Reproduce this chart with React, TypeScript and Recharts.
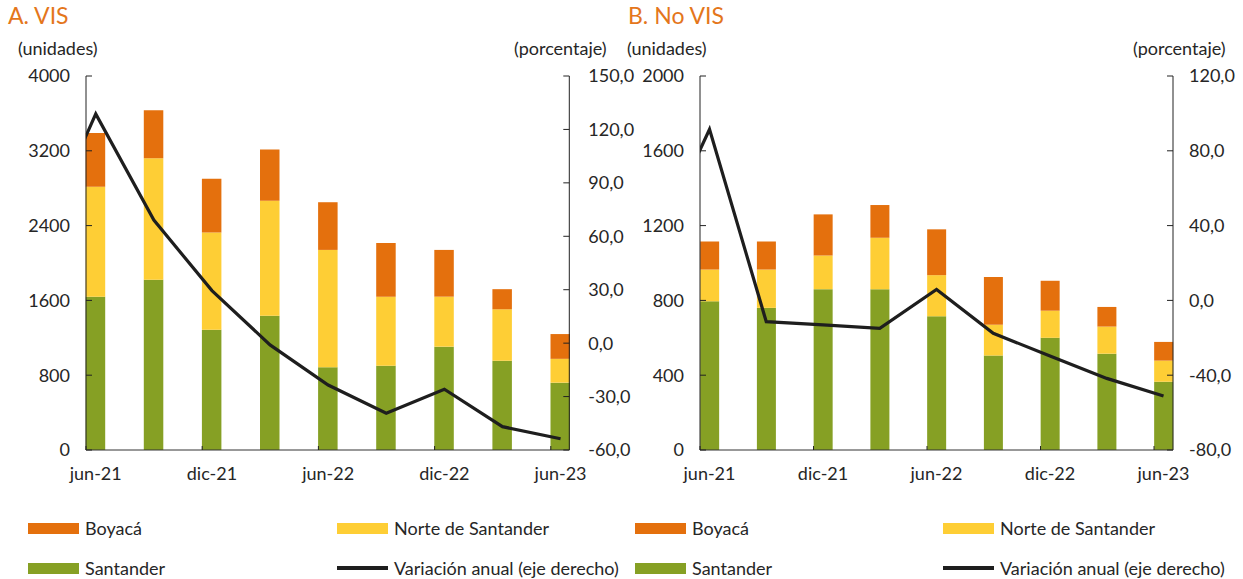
import React from 'react';
import { ComposedChart, Bar, Line, XAxis, YAxis } from 'recharts';

// ---- data ----
const categories = ['mar-21', 'jun-21', 'sep-21', 'dic-21', 'mar-22', 'jun-22', 'sep-22', 'dic-22', 'mar-23', 'jun-23'];
const labeledTicks = ['jun-21', 'dic-21', 'jun-22', 'dic-22', 'jun-23'];

const visSantander = [null, 1640, 1820, 1285, 1435, 885, 900, 1105, 955, 720];
const visNorte = [null, 1175, 1300, 1040, 1230, 1255, 740, 535, 550, 255];
const visBoyaca = [null, 575, 515, 575, 550, 510, 575, 500, 215, 265];
const visVariacion = [55.5, 128.7, 69.1, 29.5, -1.0, -23.5, -39.4, -25.9, -46.9, -53.7];

const noVisSantander = [null, 795, 760, 860, 860, 715, 505, 600, 515, 365];
const noVisNorte = [null, 170, 205, 180, 275, 220, 165, 145, 145, 113];
const noVisBoyaca = [null, 150, 150, 220, 175, 245, 255, 160, 105, 100];
const noVisVariacion = [26, 91.5, -11.4, -13.1, -14.9, 5.9, -17.6, -29.7, -41.7, -51.1];

const visLeftTicks = [0, 800, 1600, 2400, 3200, 4000];
const visRightTicks = [-60, -30, 0, 30, 60, 90, 120, 150];
const noVisLeftTicks = [0, 400, 800, 1200, 1600, 2000];
const noVisRightTicks = [-80, -40, 0, 40, 80, 120];

const series = [
  { key: 'boyaca', name: 'Boyacá', color: '#E4700D' },
  { key: 'norte', name: 'Norte de Santander', color: '#FECE35' },
  { key: 'santander', name: 'Santander', color: '#86A024' },
  { key: 'variacion', name: 'Variación anual (eje derecho)', color: '#1E1E1E' },
];

const buildData = (s: any[], n: any[], b: any[], v: number[]) =>
  categories.map((c, i) => ({ cat: c, santander: s[i], norte: n[i], boyaca: b[i], variacion: v[i] }));

const visData = buildData(visSantander, visNorte, visBoyaca, visVariacion);
const noVisData = buildData(noVisSantander, noVisNorte, noVisBoyaca, noVisVariacion);

// ---- styles ----
const FONT = 'Lato, "Open Sans", sans-serif';
const TXT = '#262626';
const AXIS = '#222222';
const ORANGE_TITLE = '#E4761B';

const fmtPct = (v: number) => v.toFixed(1).replace('.', ',');

const LeftTick = (props: any) => {
  const { x, y, payload } = props;
  return (
    <g>
      <line x1={x} x2={x + 6} y1={y} y2={y} stroke={AXIS} strokeWidth={1} />
      <text x={x - 16} y={y} dy="0.36em" textAnchor="end" fontSize={18} fill={TXT} fontFamily={FONT}>
        {payload.value}
      </text>
    </g>
  );
};

const makeRightTick = (gap: number) => (props: any) => {
  const { x, y, payload } = props;
  return (
    <g>
      <line x1={x} x2={x - 6} y1={y} y2={y} stroke={AXIS} strokeWidth={1} />
      <text x={x + gap} y={y} dy="0.36em" textAnchor="start" fontSize={18} fill={TXT} fontFamily={FONT}>
        {fmtPct(payload.value)}
      </text>
    </g>
  );
};

const makeXTick = (half: number) => (props: any) => {
  const { x, y, payload } = props;
  if (!labeledTicks.includes(payload.value)) return <g />;
  return (
    <g>
      <line x1={x - half} x2={x - half} y1={y} y2={y - 4} stroke={AXIS} strokeWidth={1} />
      <text x={x} y={y + 30} textAnchor="middle" fontSize={18} fill={TXT} fontFamily={FONT}>
        {payload.value}
      </text>
    </g>
  );
};

type PanelProps = {
  data: any[];
  width: number;
  leftW: number;
  rightW: number;
  padL: number;
  padR: number;
  barSize: number;
  leftDomain: [number, number];
  leftTicks: number[];
  rightDomain: [number, number];
  rightTicks: number[];
  rightGap: number;
  clipClass: string;
};

const Panel = (p: PanelProps) => (
  <ComposedChart width={p.width} height={490} data={p.data} margin={{ top: 76, right: 0, bottom: 0, left: 0 }}>
    <XAxis
      dataKey="cat"
      interval={0}
      height={40}
      padding={{ left: p.padL, right: p.padR }}
      tickLine={false}
      tickSize={0}
      tickMargin={0}
      axisLine={{ stroke: '#333', strokeWidth: 1 }}
      tick={makeXTick(p.barSize / 2)}
    />
    <YAxis
      yAxisId="left"
      orientation="left"
      width={p.leftW}
      domain={p.leftDomain}
      ticks={p.leftTicks}
      interval={0}
      tickLine={false}
      tickSize={0}
      tickMargin={0}
      axisLine={{ stroke: AXIS, strokeWidth: 1 }}
      tick={LeftTick}
    />
    <YAxis
      yAxisId="right"
      orientation="right"
      width={p.rightW}
      domain={p.rightDomain}
      ticks={p.rightTicks}
      interval={0}
      tickLine={false}
      tickSize={0}
      tickMargin={0}
      axisLine={{ stroke: AXIS, strokeWidth: 1 }}
      tick={makeRightTick(p.rightGap)}
    />
    <Bar yAxisId="left" dataKey="santander" stackId="a" fill={series[2].color} barSize={p.barSize} isAnimationActive={false} />
    <Bar yAxisId="left" dataKey="norte" stackId="a" fill={series[1].color} barSize={p.barSize} isAnimationActive={false} />
    <Bar yAxisId="left" dataKey="boyaca" stackId="a" fill={series[0].color} barSize={p.barSize} isAnimationActive={false} />
    <Line
      yAxisId="right"
      dataKey="variacion"
      className={p.clipClass}
      stroke={series[3].color}
      strokeWidth={3.2}
      dot={false}
      activeDot={false}
      isAnimationActive={false}
    />
  </ComposedChart>
);

const abs = (left: number, top: number, extra: React.CSSProperties = {}): React.CSSProperties => ({
  position: 'absolute',
  left,
  top,
  whiteSpace: 'nowrap',
  ...extra,
});

const LegendItem = ({ left, top, s }: { left: number; top: number; s: typeof series[number] }) => (
  <div style={abs(left, top, { height: 22, display: 'flex', alignItems: 'center' })}>
    {s.key === 'variacion' ? (
      <div style={{ width: 51, height: 4, background: s.color, marginRight: 6 }} />
    ) : (
      <div style={{ width: 51, height: 11, background: s.color, marginRight: 6 }} />
    )}
    <span style={{ fontSize: 18, lineHeight: '22px', color: TXT, fontFamily: FONT }}>{s.name}</span>
  </div>
);

export default function App() {
  const legendCols = [28, 337, 635, 943];
  const rowTops = [517, 557];
  const titleStyle = { fontSize: 23, lineHeight: '28px', color: ORANGE_TITLE };
  const unitStyle = { fontSize: 18, lineHeight: '22px', color: TXT };
  return (
    <div style={{ position: 'absolute', left: 0, top: 0, width: 1243, height: 579, background: '#fff', fontFamily: FONT, overflow: 'hidden' }}>
      <style>{`
        .clip-vis { clip-path: url(#plotClipVis); }
        .clip-novis { clip-path: url(#plotClipNoVis); }
      `}</style>
      <svg width={0} height={0} style={{ position: 'absolute', left: 0, top: 0 }}>
        <defs>
          <clipPath id="plotClipVis" clipPathUnits="userSpaceOnUse">
            <rect x={86} y={0} width={483.3} height={490} />
          </clipPath>
          <clipPath id="plotClipNoVis" clipPathUnits="userSpaceOnUse">
            <rect x={80} y={0} width={473} height={490} />
          </clipPath>
        </defs>
      </svg>

      <div style={abs(8, 1, titleStyle)}>A. VIS</div>
      <div style={abs(628, 1, titleStyle)}>B. No VIS</div>
      <div style={abs(18, 37, unitStyle)}>(unidades)</div>
      <div style={abs(514, 37, unitStyle)}>(porcentaje)</div>
      <div style={abs(627, 37, unitStyle)}>(unidades)</div>
      <div style={abs(1133, 37, unitStyle)}>(porcentaje)</div>

      <div style={abs(0, 0)}>
        <Panel
          data={visData}
          width={640}
          leftW={86}
          rightW={70.7}
          padL={-77.4}
          padR={-20.3}
          barSize={19.5}
          leftDomain={[0, 4000]}
          leftTicks={visLeftTicks}
          rightDomain={[-60, 150]}
          rightTicks={visRightTicks}
          rightGap={19}
          clipClass="clip-vis"
        />
      </div>
      <div style={abs(620, 0)}>
        <Panel
          data={noVisData}
          width={623}
          leftW={80}
          rightW={70}
          padL={-75.6}
          padR={-18.9}
          barSize={19}
          leftDomain={[0, 2000]}
          leftTicks={noVisLeftTicks}
          rightDomain={[-80, 120]}
          rightTicks={noVisRightTicks}
          rightGap={16}
          clipClass="clip-novis"
        />
      </div>

      <LegendItem left={legendCols[0]} top={rowTops[0]} s={series[0]} />
      <LegendItem left={legendCols[1]} top={rowTops[0]} s={series[1]} />
      <LegendItem left={legendCols[0]} top={rowTops[1]} s={series[2]} />
      <LegendItem left={legendCols[1]} top={rowTops[1]} s={series[3]} />
      <LegendItem left={legendCols[2]} top={rowTops[0]} s={series[0]} />
      <LegendItem left={legendCols[3]} top={rowTops[0]} s={series[1]} />
      <LegendItem left={legendCols[2]} top={rowTops[1]} s={series[2]} />
      <LegendItem left={legendCols[3]} top={rowTops[1]} s={series[3]} />
    </div>
  );
}
